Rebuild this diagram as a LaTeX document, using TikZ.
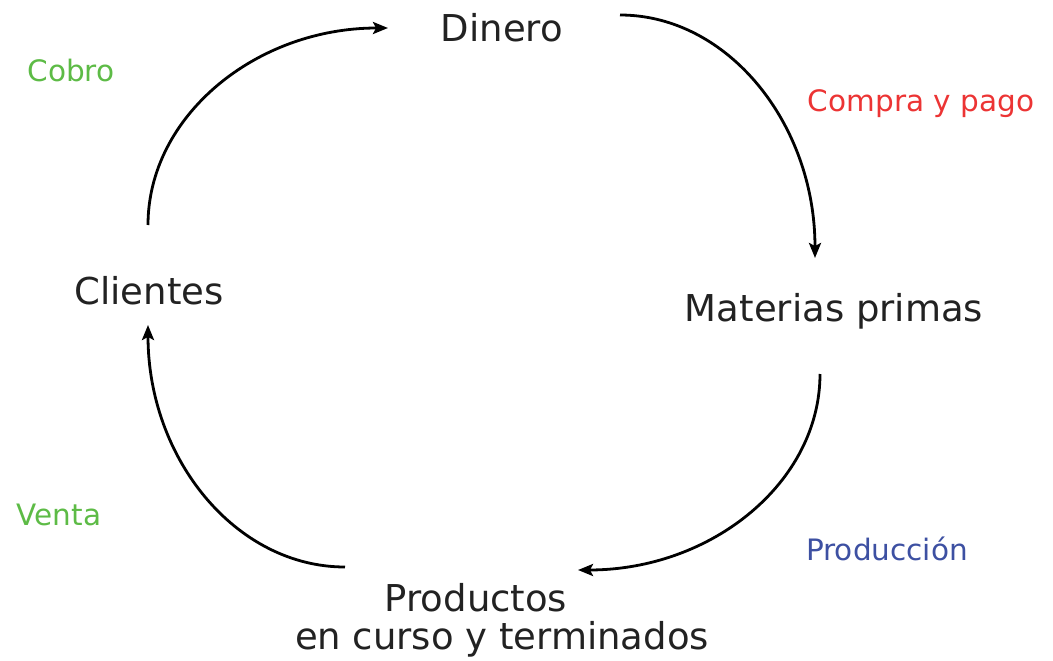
\documentclass[tikz,border=0pt]{standalone}
\usepackage{fontspec}
\setmainfont{DejaVu Sans}
\usetikzlibrary{arrows.meta}
\definecolor{cobro}{HTML}{5DBB46}
\definecolor{compra}{HTML}{EC3434}
\definecolor{produc}{HTML}{3D50A2}
\definecolor{texto}{HTML}{222222}
\tikzset{
  etapa/.style={text=texto, inner sep=0pt, align=center, font=\fontsize{37}{38}\selectfont},
  paso/.style={inner sep=0pt, font=\fontsize{29.5}{32}\selectfont},
  flujo/.style={line width=2.8pt, -{Stealth[length=15pt, width=12pt, inset=3pt]}},
}

\begin{document}
\begin{tikzpicture}[x=1pt, y=-1pt]
  \useasboundingbox (0,0) rectangle (1053,661);

  % Stages of the cycle
  \node[etapa] (dinero) at (502,28) {Dinero};
  \node[etapa] (materias) at (834,311) {Materias primas};
  \node[etapa] (productos) at (502,620) {Productos\makebox[52pt]{}\\en curso y terminados};
  \node[etapa] (clientes) at (149,291) {Clientes};

  % Flows
  \draw[flujo] ([shift={(-1,-66)}]clientes.center) .. controls +(0,-109) and +(-132,0) .. ([shift={(-114,0)}]dinero.center);
  \draw[flujo] ([shift={(118,-13)}]dinero.center) .. controls +(108,0) and +(0,-134) .. ([shift={(-19,-53)}]materias.center);
  \draw[flujo] ([shift={(-14,63)}]materias.center) .. controls +(0,108) and +(134,0) .. ([shift={(76,-50)}]productos.center);
  \draw[flujo] ([shift={(-157,-53)}]productos.center) .. controls +(-109,0) and +(0,134) .. ([shift={(-1,34)}]clientes.center);

  % Labels
  \node[paso, text=cobro] (cobro) at (71,71) {Cobro};
  \node[paso, text=compra] (compra) at (921,104) {Compra y pago};
  \node[paso, text=produc] (produccion) at (887,549) {Producción};
  \node[paso, text=cobro] (venta) at (59,515) {Venta};
\end{tikzpicture}
\end{document}
